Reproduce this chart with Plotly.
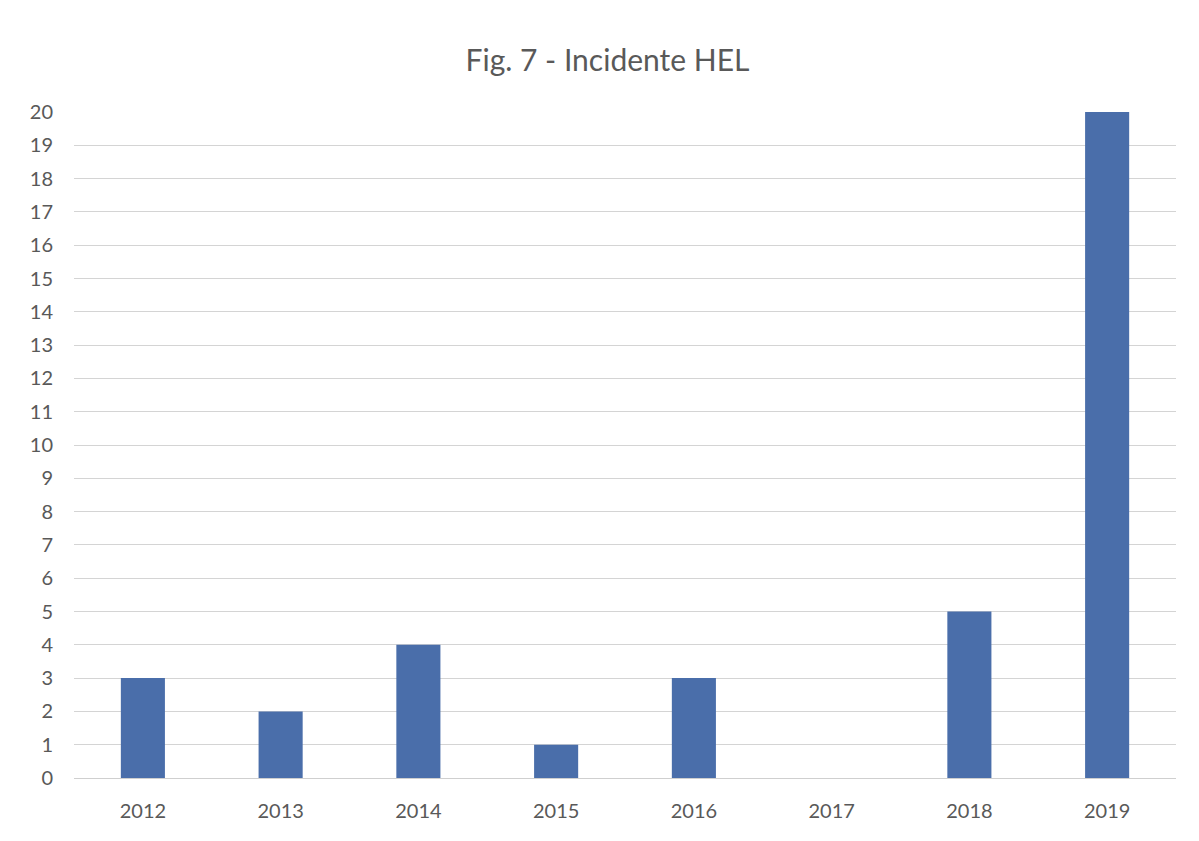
import plotly.graph_objects as go

years = ["2012", "2013", "2014", "2015", "2016", "2017", "2018", "2019"]
incidents = [3, 2, 4, 1, 3, 0, 5, 20]
y_ticks = list(range(0, 21))

fig = go.Figure(
    go.Bar(
        x=years,
        y=incidents,
        width=0.32,
        marker=dict(color="#4a6eaa", line=dict(width=0)),
    )
)

fig.update_layout(
    width=1199,
    height=841,
    paper_bgcolor="white",
    plot_bgcolor="white",
    margin=dict(l=66, r=31, t=104, b=71),
    title=dict(
        text="Fig. 7 - Incidente HEL",
        x=0.5,
        xanchor="center",
        y=1 - 52 / 841,
        yanchor="middle",
        font=dict(family="Lato, Open Sans, sans-serif", size=30, color="#595959"),
    ),
    showlegend=False,
)

fig.update_xaxes(
    type="category",
    showline=False,
    showgrid=False,
    ticks="",
    tickfont=dict(family="Lato, Open Sans, sans-serif", size=20, color="#595959"),
    ticklabelstandoff=19,
)

fig.update_yaxes(
    range=[0, 20],
    tickvals=y_ticks,
    ticktext=[str(v) for v in y_ticks],
    showgrid=True,
    gridcolor="#d4d4d4",
    gridwidth=1,
    zeroline=True,
    zerolinecolor="#cfcfcf",
    zerolinewidth=1,
    showline=False,
    ticks="",
    tickfont=dict(family="Lato, Open Sans, sans-serif", size=20, color="#595959"),
    ticklabelstandoff=20,
)

fig.write_html("out.html")
